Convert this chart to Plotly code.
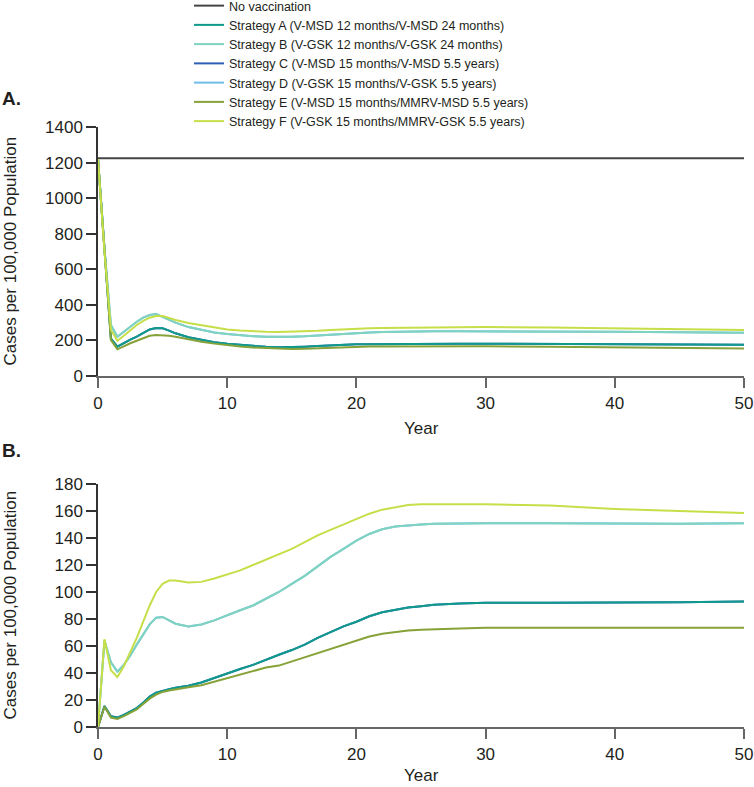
import plotly.graph_objects as go

years = [0, 0.5, 1, 1.5, 2, 2.5, 3, 3.5, 4, 4.5, 5, 5.5, 6, 7, 8, 9, 10, 11, 12, 13, 14,
         15, 16, 17, 18, 19, 20, 21, 22, 23, 24, 25, 26, 28, 30, 35, 40, 45, 50]

# Panel A: cases per 100,000 population
a_none = [1225] * len(years)
a_A = [1220, 690, 210, 165, 187, 205, 221, 242, 262, 270, 268, 255, 240, 218, 202, 190, 181, 174, 168, 164, 162,
       162, 165, 168, 172, 175, 178, 179, 180, 180.5, 181, 181.5, 182, 182, 182, 181, 178, 177, 176]
a_B = [1220, 720, 287, 221, 249, 278, 305, 328, 343, 348, 333, 315, 300, 275, 258, 245, 236, 229, 224, 221, 220,
       221, 223, 228, 233, 238, 243, 245, 247, 249, 250, 250.5, 251, 251, 251, 250, 249, 246, 243]
a_E = [1220, 685, 202, 150, 169, 184, 198, 212, 226, 230, 230, 226, 221, 206, 193, 182, 173, 166, 160, 156, 153,
       152, 153, 156, 159, 162, 165, 165.5, 166, 166.5, 167, 167, 167, 167, 167, 165, 161, 158, 155]
a_F = [1220, 700, 260, 198, 226, 258, 287, 310, 328, 337, 337, 327, 315, 298, 285, 272, 262, 256, 251, 249, 248,
       249, 251, 255, 259, 263, 267, 269, 270, 271, 272, 273, 274, 275, 275, 273, 268, 263, 258]
a_C = list(a_A)
a_D = list(a_B)

# Panel B
b_A = [0, 15.5, 8, 7, 9, 11.5, 14, 18, 22.5, 25.5, 27, 28, 29, 30.5, 33, 36.5, 40, 43, 46, 50, 53.5,
       57, 61, 66, 70.5, 74.5, 78, 82, 85, 87, 88.5, 89.5, 90.5, 91.5, 92, 92, 92, 92.5, 93]
b_B = [0, 64, 48, 41, 46, 53, 61, 69, 76, 81, 81.5, 79, 76.5, 74.5, 76, 79, 83, 86.5, 90, 95, 100,
       106, 112, 119, 126, 132, 138, 143, 146.5, 148.5, 149.5, 150, 150.5, 151, 151, 151, 150.5, 150.5, 151]
b_E = [0, 15, 7, 6, 8, 10.5, 13, 17, 21, 24, 26, 27, 28, 29.5, 31, 33.5, 36, 38.5, 41, 44, 45.5,
       48.5, 51.5, 55, 58, 61, 64, 67, 69, 70.5, 71.5, 72, 72.5, 73, 73.5, 73.5, 73.5, 73, 73.5]
b_F = [0, 65, 42, 37, 45, 55, 66, 78, 90, 100, 106, 108.5, 108.5, 107, 107.5, 110, 113, 116, 120, 124, 128,
       132, 137, 142, 146, 150, 154, 158, 161, 163, 164.5, 165, 165, 165.5, 165, 164, 161.5, 160, 158.5]
b_C = list(b_A)
b_D = list(b_B)

names = ["No vaccination",
         "Strategy A (V-MSD 12 months/V-MSD 24 months)",
         "Strategy B (V-GSK 12 months/V-GSK 24 months)",
         "Strategy C (V-MSD 15 months/V-MSD 5.5 years)",
         "Strategy D (V-GSK 15 months/V-GSK 5.5 years)",
         "Strategy E (V-MSD 15 months/MMRV-MSD 5.5 years)",
         "Strategy F (V-GSK 15 months/MMRV-GSK 5.5 years)"]
colors = ["#454545", "#0f9a8c", "#7fd3bf", "#2e5fb6", "#6dbde8", "#86a238", "#c6de48"]

panel_a = [a_none, a_A, a_B, a_C, a_D, a_E, a_F]
panel_b = [None, b_A, b_B, b_C, b_D, b_E, b_F]

fig = go.Figure()

draw_order = [0, 3, 4, 1, 2, 5, 6]
for i in draw_order:
    fig.add_trace(go.Scatter(x=years, y=panel_a[i], mode="lines", name=names[i],
                             line=dict(color=colors[i], width=2), legendrank=i + 1,
                             xaxis="x", yaxis="y", showlegend=True))
for i in draw_order:
    if panel_b[i] is None:
        continue
    fig.add_trace(go.Scatter(x=years, y=panel_b[i], mode="lines", name=names[i],
                             line=dict(color=colors[i], width=2),
                             xaxis="x2", yaxis="y2", showlegend=False))

W, H = 754, 787
L, R, T, B = 98, 10, 127, 60
pw, ph = W - L - R, H - T - B

def py(ypx):
    return (H - B - ypx) / ph

def px(xpx):
    return (xpx - L) / pw

font_color = "#231f20"
family = "Liberation Sans, Arial, sans-serif"
tickfont = dict(family=family, size=17, color=font_color)
axis_common = dict(showgrid=False, zeroline=False, showline=True, ticks="outside",
                   ticklen=10, tickwidth=1.5, tickfont=tickfont, linewidth=1.5,
                   automargin=False)

fig.update_layout(
    width=W, height=H,
    margin=dict(l=L, r=R, t=T, b=B, autoexpand=False),
    paper_bgcolor="white", plot_bgcolor="white",
    font=dict(family=family, color=font_color),
    xaxis=dict(domain=[0, 1], anchor="y", range=[0, 50], tickvals=[0, 10, 20, 30, 40, 50],
               linecolor="#666666", tickcolor="#666666", ticklabelstandoff=1, **axis_common),
    yaxis=dict(domain=[py(376), 1], anchor="x", range=[0, 1400], dtick=200,
               linecolor="#333333", tickcolor="#333333", **axis_common),
    xaxis2=dict(domain=[0, 1], anchor="y2", range=[0, 50], tickvals=[0, 10, 20, 30, 40, 50],
                linecolor="#666666", tickcolor="#666666", ticklabelstandoff=1, **axis_common),
    yaxis2=dict(domain=[0, py(484)], anchor="x2", range=[0, 180], dtick=20,
                linecolor="#333333", tickcolor="#333333", **axis_common),
    legend=dict(x=px(189), y=py(-9), xanchor="left", yanchor="top",
                font=dict(family=family, size=12.5, color=font_color), bgcolor="rgba(0,0,0,0)",
                traceorder="normal"),
    showlegend=True,
)

ann_font = dict(family=family, size=17, color=font_color)
fig.add_annotation(text="Cases per 100,000 Population", xref="paper", yref="paper",
                   x=px(10), y=(py(127) + py(376)) / 2, textangle=-90, showarrow=False,
                   xanchor="center", yanchor="middle", font=ann_font)
fig.add_annotation(text="Cases per 100,000 Population", xref="paper", yref="paper",
                   x=px(10), y=(py(484) + py(727)) / 2, textangle=-90, showarrow=False,
                   xanchor="center", yanchor="middle", font=ann_font)
fig.add_annotation(text="Year", xref="paper", yref="paper", x=px(421), y=py(428),
                   showarrow=False, xanchor="center", yanchor="middle", font=ann_font)
fig.add_annotation(text="Year", xref="paper", yref="paper", x=px(421), y=py(776),
                   showarrow=False, xanchor="center", yanchor="middle", font=ann_font)
fig.add_annotation(text="<b>A.</b>", xref="paper", yref="paper", x=px(0), y=py(98),
                   showarrow=False, xanchor="left", yanchor="middle",
                   font=dict(family=family, size=19, color=font_color))
fig.add_annotation(text="<b>B.</b>", xref="paper", yref="paper", x=px(0), y=py(450),
                   showarrow=False, xanchor="left", yanchor="middle",
                   font=dict(family=family, size=19, color=font_color))

fig.write_html("out.html", config={"displayModeBar": False},
               post_script="document.body.style.margin='0';document.body.style.overflow='hidden';")
